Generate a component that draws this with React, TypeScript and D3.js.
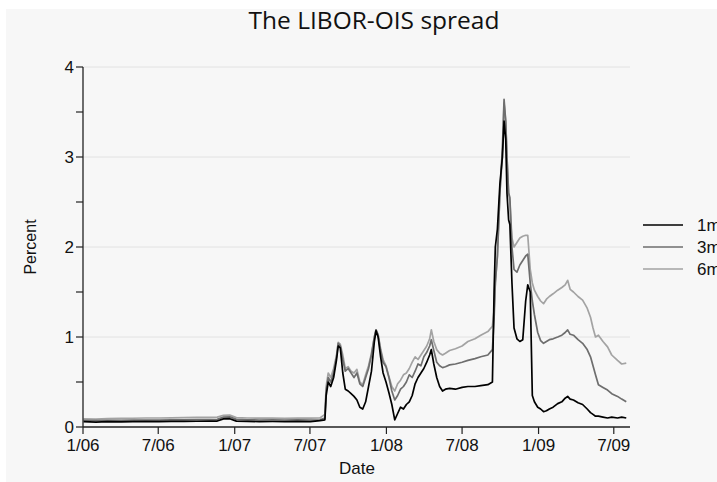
import React from "react";
import * as d3 from "d3";

const dates: string[] = [
  "2006-01-02","2006-02-01","2006-03-01","2006-04-03","2006-05-01","2006-06-01","2006-07-03","2006-08-01","2006-09-01","2006-10-02","2006-11-01","2006-11-20","2006-12-05","2006-12-20","2007-01-05","2007-02-01","2007-03-01","2007-04-02","2007-05-01","2007-06-01","2007-07-02","2007-07-25","2007-08-06",
  "2007-08-09","2007-08-14","2007-08-20","2007-08-27","2007-09-03","2007-09-07","2007-09-12","2007-09-18","2007-09-24","2007-10-01","2007-10-08","2007-10-15","2007-10-22","2007-10-29","2007-11-05","2007-11-12","2007-11-19","2007-11-26","2007-12-03","2007-12-07","2007-12-12","2007-12-18","2007-12-24","2007-12-31",
  "2008-01-07","2008-01-14","2008-01-21","2008-01-28","2008-02-04","2008-02-11","2008-02-18","2008-02-25","2008-03-03","2008-03-10","2008-03-17","2008-03-24","2008-03-31","2008-04-07","2008-04-14","2008-04-18","2008-04-24","2008-05-01","2008-05-08","2008-05-15","2008-05-22","2008-06-01","2008-06-15","2008-07-01","2008-07-15","2008-08-01","2008-08-15","2008-09-01","2008-09-12",
  "2008-09-16","2008-09-19","2008-09-24","2008-09-30","2008-10-06","2008-10-10","2008-10-14","2008-10-17","2008-10-21","2008-10-24","2008-10-29","2008-11-03","2008-11-10","2008-11-17","2008-11-24","2008-12-01","2008-12-06","2008-12-12","2008-12-17","2008-12-22","2008-12-30",
  "2009-01-06","2009-01-13","2009-01-20","2009-01-27","2009-02-05","2009-02-16","2009-02-26","2009-03-06","2009-03-12","2009-03-18","2009-03-26","2009-04-06","2009-04-17","2009-04-28","2009-05-06","2009-05-12","2009-05-18","2009-05-25","2009-06-05","2009-06-16","2009-06-26","2009-07-10","2009-07-20","2009-07-31"
];

const oneMonth: number[] = [
  0.06,0.055,0.06,0.058,0.06,0.062,0.06,0.063,0.062,0.064,0.065,0.066,0.09,0.092,0.065,0.062,0.06,0.061,0.06,0.062,0.06,0.07,0.08,
  0.35,0.5,0.45,0.55,0.75,0.9,0.88,0.6,0.42,0.4,0.37,0.34,0.3,0.22,0.2,0.28,0.45,0.62,0.95,1.07,1.0,0.78,0.6,0.5,
  0.38,0.25,0.08,0.15,0.22,0.2,0.25,0.28,0.35,0.48,0.55,0.6,0.65,0.72,0.8,0.86,0.7,0.55,0.45,0.4,0.42,0.43,0.42,0.44,0.45,0.45,0.46,0.47,0.5,
  1.5,2.0,2.2,2.7,3.0,3.4,3.2,2.6,2.3,2.25,1.6,1.1,0.98,0.95,0.97,1.4,1.58,1.5,0.35,0.28,0.22,
  0.2,0.17,0.18,0.2,0.22,0.26,0.28,0.32,0.34,0.31,0.3,0.27,0.25,0.2,0.16,0.14,0.12,0.12,0.11,0.1,0.11,0.1,0.11,0.1
];

const threeMonth: number[] = [
  0.075,0.07,0.075,0.074,0.076,0.078,0.077,0.08,0.08,0.082,0.083,0.085,0.11,0.112,0.085,0.08,0.078,0.079,0.078,0.08,0.078,0.08,0.1,
  0.4,0.55,0.5,0.6,0.78,0.93,0.9,0.75,0.62,0.65,0.6,0.55,0.6,0.48,0.45,0.55,0.65,0.8,1.0,1.08,1.02,0.85,0.72,0.67,
  0.55,0.4,0.3,0.35,0.42,0.45,0.5,0.58,0.55,0.62,0.7,0.68,0.78,0.83,0.9,0.97,0.85,0.72,0.68,0.66,0.67,0.69,0.7,0.72,0.74,0.76,0.78,0.8,0.86,
  1.2,1.6,1.9,2.6,3.1,3.64,3.4,3.0,2.6,2.55,2.0,1.75,1.72,1.8,1.85,1.9,1.92,1.6,1.4,1.25,1.05,
  0.96,0.93,0.95,0.97,0.98,1.0,1.02,1.05,1.08,1.03,1.02,0.97,0.93,0.86,0.78,0.68,0.58,0.47,0.44,0.41,0.37,0.34,0.31,0.28
];

const sixMonth: number[] = [
  0.09,0.088,0.092,0.095,0.097,0.1,0.1,0.102,0.105,0.107,0.108,0.11,0.13,0.132,0.105,0.1,0.098,0.099,0.097,0.1,0.098,0.1,0.14,
  0.45,0.6,0.55,0.65,0.8,0.94,0.92,0.8,0.65,0.67,0.62,0.6,0.64,0.5,0.47,0.58,0.68,0.82,1.0,1.08,1.03,0.87,0.75,0.68,
  0.56,0.45,0.4,0.48,0.52,0.58,0.6,0.65,0.72,0.78,0.75,0.8,0.85,0.9,0.98,1.08,0.95,0.86,0.82,0.8,0.82,0.85,0.87,0.9,0.95,0.98,1.02,1.06,1.12,
  1.3,1.6,1.9,2.6,3.0,3.6,3.4,3.0,2.6,2.5,2.1,2.0,2.05,2.1,2.12,2.13,2.13,1.75,1.6,1.52,1.45,
  1.4,1.37,1.42,1.45,1.48,1.52,1.55,1.58,1.63,1.53,1.5,1.45,1.41,1.32,1.22,1.1,1.0,1.02,0.95,0.89,0.8,0.74,0.7,0.71
];

const seriesNames: string[] = ["1m", "3m", "6m"];
const seriesColors: string[] = ["#000000", "#6e6e6e", "#a3a3a3"];
const xTickLabels: string[] = ["1/06", "7/06", "1/07", "7/07", "1/08", "7/08", "1/09", "7/09"];
const xTickDates: string[] = ["2006-01-01", "2006-07-01", "2007-01-01", "2007-07-01", "2008-01-01", "2008-07-01", "2009-01-01", "2009-07-01"];
const yMajorTicks: number[] = [0, 1, 2, 3, 4];
const yMinorTicks: number[] = [0.5, 1.5, 2.5, 3.5];

export default function App() {
  const W = 717, H = 482;
  const left = 83, right = 630, top = 67, bottom = 427;
  const parse = d3.timeParse("%Y-%m-%d");
  const x = d3.scaleTime()
    .domain([parse("2006-01-01")!, parse("2009-08-09")!])
    .range([left, right]);
  const y = d3.scaleLinear().domain([0, 4]).range([bottom, top]);
  const allSeries = [oneMonth, threeMonth, sixMonth];
  const parsedDates = dates.map((d) => parse(d)!);
  const line = d3.line<[Date, number]>().x((d) => x(d[0])).y((d) => y(d[1]));
  const tickFont = "'Liberation Sans', Arial, sans-serif";

  return (
    <svg width={W} height={H} style={{ position: "absolute", left: 0, top: 0 }}>
      <rect x={0} y={0} width={W} height={H} fill="#ffffff" />
      <rect x={6} y={9} width={W - 6} height={H - 9} fill="#f7f7f7" />
      <text x={374} y={29} textAnchor="middle" fontFamily="'Open Sans', 'Noto Sans', sans-serif" fontSize={24.5} fill="#111">
        The LIBOR-OIS spread
      </text>
      {yMajorTicks.filter((v) => v > 0).map((v) => (
        <line key={"g" + v} x1={left} x2={right} y1={y(v)} y2={y(v)} stroke="#e2e2e2" strokeWidth={1} />
      ))}
      {allSeries.slice().reverse().map((vals, ri) => {
        const i = allSeries.length - 1 - ri;
        const pts: [Date, number][] = parsedDates.map((d, k) => [d, vals[k]]);
        return (
          <path key={"s" + i} d={line(pts) || ""} fill="none" stroke={seriesColors[i]} strokeWidth={1.7} strokeLinejoin="round" />
        );
      })}
      <line x1={left} x2={left} y1={top} y2={bottom} stroke="#222" strokeWidth={1.3} />
      <line x1={left} x2={right} y1={bottom} y2={bottom} stroke="#222" strokeWidth={1.3} />
      {yMajorTicks.map((v) => (
        <g key={"yt" + v}>
          <line x1={left - 7} x2={left} y1={y(v)} y2={y(v)} stroke="#222" strokeWidth={1.2} />
          <text x={left - 9} y={y(v) + 6} textAnchor="end" fontFamily={tickFont} fontSize={17} fill="#111">{v}</text>
        </g>
      ))}
      {yMinorTicks.map((v) => (
        <line key={"ym" + v} x1={left - 7} x2={left} y1={y(v)} y2={y(v)} stroke="#222" strokeWidth={1.2} />
      ))}
      {xTickDates.map((d, i) => {
        const xx = x(parse(d)!);
        return (
          <g key={"xt" + i}>
            <line x1={xx} x2={xx} y1={bottom} y2={bottom + 7} stroke="#222" strokeWidth={1.2} />
            <text x={xx} y={bottom + 24} textAnchor="middle" fontFamily={tickFont} fontSize={17} fill="#111">{xTickLabels[i]}</text>
          </g>
        );
      })}
      <text x={357} y={474} textAnchor="middle" fontFamily={tickFont} fontSize={17} fill="#111">Date</text>
      <text transform={`translate(36,247) rotate(-90)`} textAnchor="middle" fontFamily={tickFont} fontSize={16} fill="#111">Percent</text>
      {seriesNames.map((n, i) => (
        <g key={"lg" + n}>
          <line x1={643} x2={683} y1={225 + i * 22} y2={225 + i * 22} stroke={seriesColors[i]} strokeWidth={1.7} />
          <text x={697} y={231 + i * 22} fontFamily={tickFont} fontSize={17} fill="#111">{n}</text>
        </g>
      ))}
    </svg>
  );
}
